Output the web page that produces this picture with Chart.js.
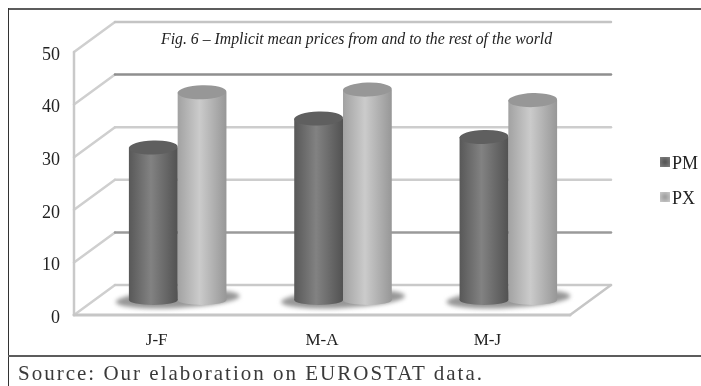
<!DOCTYPE html>
<html>
<head>
<meta charset="utf-8">
<script src="https://cdn.jsdelivr.net/npm/chart.js@4"></script>
<style>
html,body{margin:0;padding:0;background:#fff;}
#wrap{position:relative;width:701px;height:386px;overflow:hidden;}
#c{position:absolute;left:0;top:0;filter:blur(0.5px);}
.rule{position:absolute;background:#5c5c5c;}
#source{position:absolute;left:18px;top:361px;font:21px/24px "Liberation Serif",serif;letter-spacing:2px;color:#3a3a3a;white-space:nowrap;filter:blur(0.3px);}
</style>
</head>
<body>
<div id="wrap">
<canvas id="c" width="701" height="386"></canvas>
<div class="rule" style="left:8px;top:8px;width:693px;height:2px"></div>
<div class="rule" style="left:8px;top:8px;width:1px;height:378px;background:#333"></div>
<div class="rule" style="left:8px;top:355px;width:693px;height:2px"></div>
<div id="source">Source: Our elaboration on EUROSTAT data.</div>
</div>
<script>
// data
const categories = ["J-F","M-A","M-J"];
const pmValues = [29,34.5,31];
const pxValues = [39.5,40,38];
const yTicks = [0,10,20,30,40,50];
const chartTitle = "Fig. 6 – Implicit mean prices from and to the rest of the world";

// depth of the fake 3d box
const depthX = 41, depthY = -30;
const midX = 21, midY = -15;
const capRy = 7;

// some grid lines came out darker in the scan
const gridColors = {0:"#c9c9c9",10:"#9a9a9a",20:"#cdcdcd",30:"#cdcdcd",40:"#8f8f8f",50:"#c4c4c4"};

const seriesLook = [
    {edgeL:"#585858",mid:"#828282",edgeR:"#525252",cap:"#5f5f5f"},
    {edgeL:"#a2a2a2",mid:"#cbcbcb",edgeR:"#979797",cap:"#979797"}
];

function line(ctx,x1,y1,x2,y2,color,w){
    ctx.strokeStyle = color;
    ctx.lineWidth = w;
    ctx.beginPath();
    ctx.moveTo(x1,y1);
    ctx.lineTo(x2,y2);
    ctx.stroke();
}

const box3d = {
    id:"box3d",

    beforeDatasetsDraw(chart){
        const ctx = chart.ctx;
        const area = chart.chartArea;
        const y = chart.scales.y;
        const x = chart.scales.x;

        ctx.save();
        ctx.lineCap = "round";

        // back wall lines and the slanted bits on the left wall
        yTicks.forEach(t => {
            const py = y.getPixelForValue(t);
            line(ctx,area.left,py,area.left+depthX,py+depthY,"#cfcfcf",2.5);
            line(ctx,area.left+depthX,py+depthY,area.right+depthX,py+depthY,gridColors[t],2.5);
        });

        // left edge and floor
        const y0 = y.getPixelForValue(0);
        line(ctx,area.left,area.top,area.left,y0,"#c9c9c9",2.5);
        line(ctx,area.left,y0,area.right,y0,"#c6c6c6",3);
        line(ctx,area.right,y0,area.right+depthX,y0+depthY,"#c6c6c6",2.5);

        // soft shadows under each pair
        categories.forEach((c,i) => {
            const cx = x.getPixelForValue(i)+midX;
            ctx.save();
            ctx.filter = "blur(2px)";
            ctx.fillStyle = "#979797";
            ctx.beginPath();
            ctx.ellipse(cx,y0+midY-1,62,9,-0.05,0,Math.PI*2);
            ctx.fill();
            ctx.restore();
        });
        ctx.restore();
    },

    beforeDatasetDraw(chart,args){
        const ctx = chart.ctx;
        const look = seriesLook[args.index];

        ctx.save();
        ctx.translate(midX,midY);

        args.meta.data.forEach(bar => {
            const w = bar.width;
            const left = bar.x-w/2;
            const g = ctx.createLinearGradient(left,0,left+w,0);
            g.addColorStop(0,look.edgeL);
            g.addColorStop(0.45,look.mid);
            g.addColorStop(1,look.edgeR);
            bar.options = Object.assign({},bar.options,{backgroundColor:g});

            // round bottom of the cylinder
            ctx.fillStyle = g;
            ctx.beginPath();
            ctx.ellipse(bar.x,bar.base,w/2,5,0,0,Math.PI*2);
            ctx.fill();
        });
    },

    afterDatasetDraw(chart,args){
        const ctx = chart.ctx;
        const look = seriesLook[args.index];

        args.meta.data.forEach(bar => {
            ctx.fillStyle = look.cap;
            ctx.beginPath();
            ctx.ellipse(bar.x,bar.y,bar.width/2,capRy,-0.03,0,Math.PI*2);
            ctx.fill();
        });
        ctx.restore();
    },

    afterDraw(chart){
        const ctx = chart.ctx;
        ctx.save();

        // title sits inside the plot
        ctx.font = "italic 15.8px 'Liberation Serif'";
        ctx.fillStyle = "#222";
        ctx.textAlign = "left";
        ctx.textBaseline = "middle";
        ctx.fillText(chartTitle,161,40);

        // legend
        ctx.font = "18px 'Liberation Serif'";
        chart.data.datasets.forEach((ds,i) => {
            const my = 162+i*35;
            const look = seriesLook[i];
            const g = ctx.createRadialGradient(665,my,1,665,my,7);
            g.addColorStop(0,look.edgeL);
            g.addColorStop(1,look.mid);
            ctx.fillStyle = g;
            ctx.fillRect(660,my-5,10,10);
            ctx.fillStyle = "#222";
            ctx.fillText(ds.label,672,my+2);
        });
        ctx.restore();
    }
};

new Chart(document.getElementById("c"),{
    type:"bar",
    data:{
        labels:categories,
        datasets:[
            {label:"PM",data:pmValues,backgroundColor:"#808080"},
            {label:"PX",data:pxValues,backgroundColor:"#c8c8c8"}
        ]
    },
    options:{
        responsive:false,
        animation:false,
        categoryPercentage:0.59,
        barPercentage:1,
        layout:{padding:{top:52,right:131}},
        plugins:{legend:{display:false},title:{display:false},tooltip:{enabled:false}},
        scales:{
            x:{
                grid:{display:false},
                border:{display:false},
                ticks:{color:"#222",padding:7,font:{family:"Liberation Serif",size:17}},
                afterFit(s){s.height = 71;}
            },
            y:{
                min:0,
                max:50,
                grid:{display:false},
                border:{display:false},
                ticks:{stepSize:10,color:"#222",padding:6,labelOffset:3,font:{family:"Liberation Serif",size:18}},
                afterFit(s){s.width = 74;}
            }
        }
    },
    plugins:[box3d]
});
</script>
</body>
</html>
